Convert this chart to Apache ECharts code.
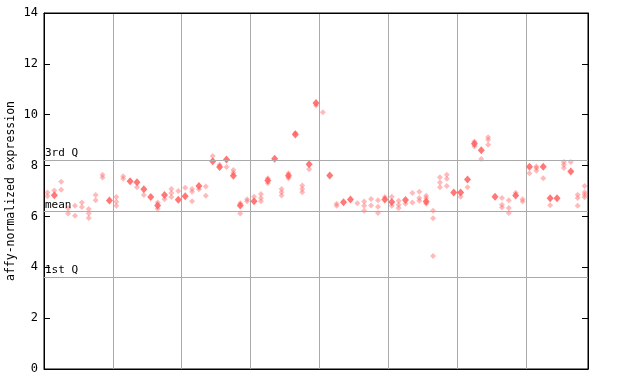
<!DOCTYPE html>
<html>
<head>
<meta charset="utf-8">
<script src="https://cdn.jsdelivr.net/npm/echarts@6/dist/echarts.min.js"></script>
<style>html,body{margin:0;padding:0;background:#fff;}#c{width:640px;height:384px;}</style>
</head>
<body>
<div id="c"></div>
<script>
// y-axis ticks
const yTicks = [0, 2, 4, 6, 8, 10, 12, 14];
// reference lines
const refLabels = ['3rd Q', 'mean', '1st Q'];
const refValues = [8.22, 6.2, 3.62];
// solid (highlighted) diamond per sample column, null where absent
const solidValues = [
  null, 6.83, null, null, null, null, null, null, null, 6.63,
  null, null, 7.38, 7.34, 7.07, 6.76, 6.43, 6.84, null, 6.66,
  6.79, null, 7.2, null, 8.17, 7.94, 8.24, 7.6, 6.43, null,
  6.6, null, 7.41, 8.27, null, 7.6, 9.22, null, 8.05, 10.46,
  null, 7.61, null, 6.56, 6.67, null, null, null, null, 6.67,
  6.57, null, 6.65, null, null, 6.59, null, null, null, 6.94,
  6.94, 7.45, 8.86, 8.6, null, 6.77, null, null, 6.82, null,
  7.95, null, 7.95, 6.71, 6.71, null, 7.77, null, null
];
// replicate (light) diamonds per sample column
const replicateValues = [
  [6.94, 6.79], [7.02], [7.36, 7.05], [6.32, 6.12], [6.42, 6.03],
  [6.55, 6.37], [6.29, 6.12, 5.94], [6.84, 6.64], [7.64, 7.53], [],
  [6.76, 6.58, 6.42], [7.58, 7.48], [], [7.15], [6.84],
  [], [6.55, 6.3], [6.68], [7.08, 6.92, 6.76], [7.0],
  [7.13], [7.08, 6.97, 6.6], [7.07], [7.18, 6.81], [8.38],
  [8.03], [7.94], [7.83, 7.72], [6.52, 6.12], [6.68, 6.6],
  [6.77], [6.88, 6.72, 6.6], [7.5, 7.3], [], [7.08, 6.95, 6.82],
  [7.7, 7.5], [9.28], [7.22, 7.08, 6.95], [7.86], [10.36],
  [10.1], [], [6.5, 6.42], [], [],
  [6.52], [6.59, 6.42, 6.22], [6.69, 6.43], [6.64, 6.38, 6.13], [6.76],
  [6.77, 6.42], [6.62, 6.46, 6.33], [6.5], [6.92, 6.55], [6.97, 6.72, 6.62],
  [6.81, 6.72, 6.5], [6.22, 5.93, 4.44], [7.54, 7.33, 7.15], [7.64, 7.48, 7.2], [],
  [6.77], [7.15], [8.95, 8.75], [8.26], [9.11, 9.02, 8.82],
  [], [6.72, 6.46, 6.35], [6.64, 6.33, 6.13], [6.93], [6.68, 6.59],
  [7.7], [7.96, 7.9, 7.8], [7.5], [6.44], [],
  [8.14, 8.03, 7.9], [8.14], [6.85, 6.72, 6.42], [7.2, 6.95, 6.85, 6.75]
];

const nCols = solidValues.length;
const solidData = [];
solidValues.forEach((v, i) => { if (v !== null) solidData.push([i + 0.5, v]); });
const repData = [];
replicateValues.forEach((arr, i) => arr.forEach(v => repData.push([i + 0.5, v])));

const FONT = 'DejaVu Sans Mono';
const chart = echarts.init(document.getElementById('c'), null, {renderer: 'canvas'});
const axisLineBlack = {show: true, onZero: false, lineStyle: {color: '#000', width: 1}};
chart.setOption({
  animation: false,
  backgroundColor: '#fff',
  grid: {left: 44, right: 52, top: 13, bottom: 15, containLabel: false, outerBoundsMode: 'none',
         show: true, borderColor: '#000', borderWidth: 1, backgroundColor: 'transparent'},
  xAxis: [
    {type: 'value', min: 0, max: nCols, interval: 10, position: 'bottom',
     axisLine: axisLineBlack, axisTick: {show: false}, axisLabel: {show: false},
     splitLine: {show: true, lineStyle: {color: '#aaaaaa', width: 1}}},
    {type: 'value', min: 0, max: nCols, interval: 10, position: 'top',
     axisLine: axisLineBlack, axisTick: {show: false}, axisLabel: {show: false},
     splitLine: {show: false}}
  ],
  yAxis: [
    {type: 'value', min: yTicks[0], max: yTicks[yTicks.length - 1], interval: 2, position: 'left',
     name: 'affy-normalized expression', nameLocation: 'middle', nameRotate: 90, nameGap: 27,
     nameMoveOverlap: false,
     nameTextStyle: {fontFamily: FONT, fontSize: 11.5, color: '#000'},
     axisLine: axisLineBlack, axisTick: {show: true, inside: true, length: 6, lineStyle: {color: '#000'}},
     axisLabel: {show: true, margin: 6, fontFamily: FONT, fontSize: 12, color: '#000'},
     splitLine: {show: false}},
    {type: 'value', min: yTicks[0], max: yTicks[yTicks.length - 1], interval: 2, position: 'right',
     axisLine: axisLineBlack, axisTick: {show: true, inside: true, length: 6, lineStyle: {color: '#000'}},
     axisLabel: {show: false}, splitLine: {show: false}}
  ],
  series: [
    {type: 'scatter', data: [], z: 1, silent: true,
     markLine: {
       silent: true, symbol: ['none', 'none'], animation: false,
       lineStyle: {color: '#aaaaaa', width: 1, type: 'solid'},
       label: {show: true, position: 'insideStartTop', formatter: '{b}', distance: [1, 1], padding: 0,
               fontFamily: FONT, fontSize: 11, color: '#000'},
       emphasis: {disabled: true},
       data: refValues.map((v, i) => ({name: refLabels[i], yAxis: v}))
     }},
    {type: 'scatter', data: repData, z: 3, symbol: 'diamond', symbolSize: [6, 6],
     itemStyle: {color: 'rgba(255,85,85,0.5)', borderWidth: 0}},
    {type: 'scatter', data: solidData, z: 4, symbol: 'diamond', symbolSize: [7, 8],
     itemStyle: {color: '#ff5555', borderWidth: 0}}
  ]
});
</script>
</body>
</html>
